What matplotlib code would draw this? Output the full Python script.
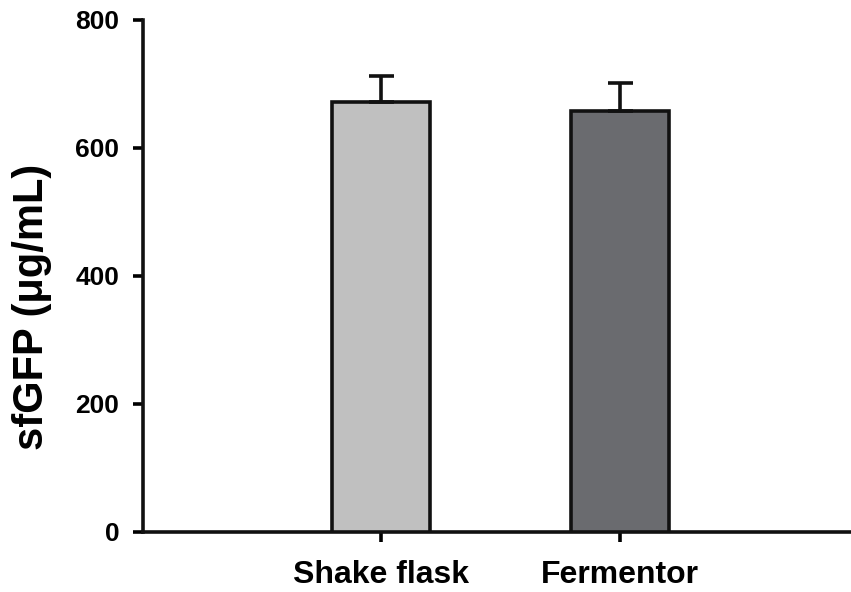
import matplotlib.pyplot as plt

plt.rcParams['font.family'] = ['Liberation Sans', 'DejaVu Sans']
plt.rcParams['font.weight'] = 'bold'

categories = ['Shake flask', 'Fermentor']
values = [672, 658]
errors = [40, 44]
colors = ['#c0c0c0', '#6a6b6f']

fig = plt.figure(figsize=(8.51, 5.92), dpi=100)
ax = fig.add_axes([0.168, 0.1014, 0.832, 0.865])

x = [0, 1]
ax.bar(x, values, width=0.41, color=colors, edgecolor='#111111', linewidth=2.6,
       yerr=[[0, 0], errors], error_kw=dict(ecolor='#111111', elinewidth=2.6, capsize=9, capthick=2.6),
       zorder=3)

ax.set_xlim(-1.0, 1.97)
ax.set_ylim(0, 800)
ax.set_yticks([0, 200, 400, 600, 800])
ax.set_xticks(x)
ax.set_xticklabels(categories, fontsize=23, fontweight='bold')
ax.tick_params(axis='y', labelsize=19, width=2.6, length=7, pad=10)
ax.tick_params(axis='x', width=2.6, length=7, pad=13)
for lab in ax.get_yticklabels():
    lab.set_fontweight('bold')

ax.set_ylabel('sfGFP (\u03bcg/mL)', fontsize=30, fontweight='bold')
ax.yaxis.set_label_coords(-0.128, 0.44)

for side in ['top', 'right']:
    ax.spines[side].set_visible(False)
for side in ['left', 'bottom']:
    ax.spines[side].set_linewidth(2.6)
    ax.spines[side].set_color('#111111')

fig.savefig('out.png', dpi=100)
